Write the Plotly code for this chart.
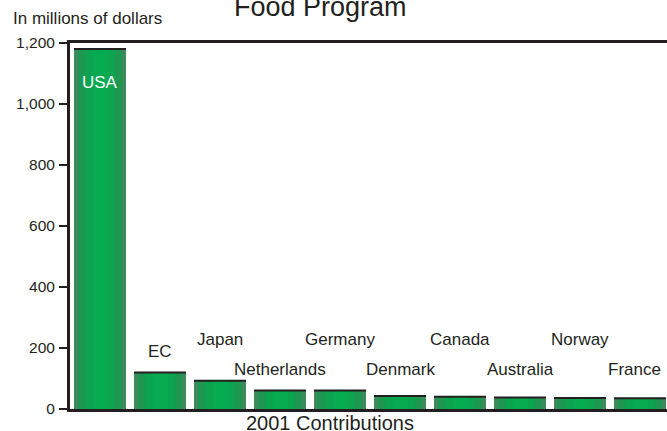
import plotly.graph_objects as go

countries = ["USA", "EC", "Japan", "Netherlands", "Germany", "Denmark",
             "Canada", "Australia", "Norway", "France"]
contributions = [1180, 120, 93, 61, 61, 43, 40, 38, 36, 35]
y_ticks = [0, 200, 400, 600, 800, 1000, 1200]

INK = "#231f20"
FONT = "Liberation Sans, Arial, Helvetica, sans-serif"

fig = go.Figure()
# layered bars to mimic the horizontal green gradient
for w, c in [(0.867, "#3d8a5d"), (0.74, "#1f9651"), (0.5, "#0ca44e"), (0.25, "#06ab50")]:
    fig.add_trace(go.Bar(x=countries, y=contributions, width=w,
                         marker=dict(color=c, line=dict(width=0)),
                         hoverinfo="skip", showlegend=False))
# dark cap line on each bar (line-ew length = 1.4 * size)
fig.add_trace(go.Scatter(x=countries, y=contributions, mode="markers",
                         marker=dict(symbol="line-ew", size=52 / 1.4,
                                     line=dict(width=2, color=INK)),
                         hoverinfo="skip", showlegend=False))

# label placement (layout only)
upper_row = {"Japan", "Germany", "Canada", "Norway"}
annotations = []
for c, v in zip(countries, contributions):
    if c == "USA":
        annotations.append(dict(x=c, y=v, yanchor="top", yshift=-22, text=c,
                                showarrow=False, font=dict(color="white", size=17, family=FONT)))
    elif c == "EC":
        annotations.append(dict(x=c, y=v, yanchor="bottom", yshift=9, text=c,
                                showarrow=False, font=dict(color=INK, size=17, family=FONT)))
    else:
        ys = 229 if c in upper_row else 131
        xs = -6 if c == "France" else 0
        annotations.append(dict(x=c, y=ys, yanchor="middle", xshift=xs, text=c,
                                showarrow=False, font=dict(color=INK, size=17, family=FONT)))

annotations += [
    dict(xref="paper", yref="paper", x=(11 - 70) / 597, y=1 + 25 / 366, xanchor="left",
         yanchor="middle", text="In millions of dollars", showarrow=False,
         font=dict(color=INK, size=17, family=FONT)),
    dict(xref="paper", yref="paper", x=(330 - 70) / 597, y=-14 / 366, xanchor="center",
         yanchor="middle", text="2001 Contributions", showarrow=False,
         font=dict(color=INK, size=20, family=FONT)),
    dict(xref="paper", yref="paper", x=(320 - 70) / 597, y=1 + 35.7 / 366, xanchor="center",
         yanchor="middle", text="Food Program", showarrow=False,
         font=dict(color=INK, size=27, family=FONT)),
]

fig.update_layout(
    width=667, height=431,
    margin=dict(l=70, r=0, t=43, b=22),
    paper_bgcolor="white", plot_bgcolor="white",
    barmode="overlay", bargap=0,
    annotations=annotations,
    font=dict(family=FONT, color=INK),
)
fig.update_xaxes(type="category", range=[-0.5, 9.45], showticklabels=False,
                 showgrid=False, zeroline=False, ticks="",
                 showline=True, linewidth=3, linecolor=INK, mirror=True)
fig.update_yaxes(range=[0, 1200], tickvals=y_ticks, tickformat=",d",
                 showgrid=False, zeroline=False, ticks="outside", ticklen=8,
                 tickwidth=2, tickcolor=INK, showline=True, linewidth=3,
                 linecolor=INK, ticklabelstandoff=1,
                 tickfont=dict(size=15.5, color=INK, family=FONT))

fig.write_html("out.html", config={"displayModeBar": False},
               post_script="document.body.style.margin='0';")
